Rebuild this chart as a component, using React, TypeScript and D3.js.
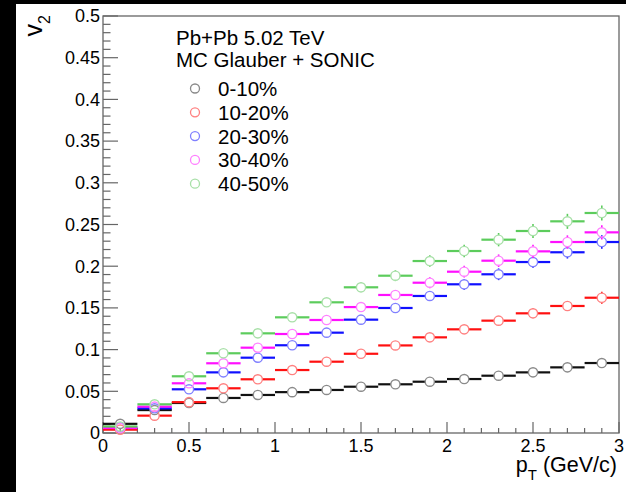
import React from "react";
import * as d3 from "d3";

const binCenters = [0.1, 0.3, 0.5, 0.7, 0.9, 1.1, 1.3, 1.5, 1.7, 1.9, 2.1, 2.3, 2.5, 2.7, 2.9];
const binHalfWidth = 0.1;

const v2_0_10 = [0.011, 0.0275, 0.036, 0.042, 0.0456, 0.049, 0.0516, 0.0555, 0.0584, 0.0615, 0.0647, 0.0687, 0.0727, 0.0787, 0.0839];
const v2_10_20 = [0.004, 0.0208, 0.037, 0.0536, 0.0644, 0.0755, 0.0855, 0.095, 0.105, 0.1147, 0.1243, 0.1347, 0.1435, 0.1523, 0.1622];
const v2_20_30 = [0.0065, 0.0296, 0.0524, 0.0727, 0.0903, 0.1052, 0.1203, 0.1359, 0.1499, 0.1643, 0.1783, 0.1903, 0.205, 0.2167, 0.229];
const v2_30_40 = [0.006, 0.0316, 0.0596, 0.0836, 0.1023, 0.1187, 0.1355, 0.151, 0.1655, 0.1802, 0.1934, 0.2066, 0.2178, 0.229, 0.2406];
const v2_40_50 = [0.0078, 0.0344, 0.068, 0.0956, 0.1195, 0.1387, 0.1567, 0.1747, 0.1886, 0.2062, 0.2182, 0.2318, 0.2422, 0.2538, 0.2638];

const err_0_10 = [0.001, 0.001, 0.001, 0.001, 0.001, 0.002, 0.002, 0.002, 0.002, 0.002, 0.003, 0.003, 0.003, 0.003, 0.003];
const err_10_20 = [0.001, 0.001, 0.002, 0.002, 0.002, 0.003, 0.003, 0.003, 0.004, 0.004, 0.005, 0.005, 0.006, 0.006, 0.0072];
const err_20_30 = [0.001, 0.002, 0.002, 0.002, 0.003, 0.003, 0.004, 0.005, 0.005, 0.006, 0.0065, 0.007, 0.007, 0.0075, 0.008];
const err_30_40 = [0.001, 0.002, 0.002, 0.003, 0.003, 0.004, 0.004, 0.005, 0.006, 0.0065, 0.007, 0.0075, 0.008, 0.008, 0.0085];
const err_40_50 = [0.001, 0.002, 0.002, 0.003, 0.003, 0.004, 0.005, 0.006, 0.0065, 0.007, 0.0075, 0.008, 0.0085, 0.009, 0.009];

const seriesLabels = ["0-10%", "10-20%", "20-30%", "30-40%", "40-50%"];
const seriesValues = [v2_0_10, v2_10_20, v2_20_30, v2_30_40, v2_40_50];
const seriesErrors = [err_0_10, err_10_20, err_20_30, err_30_40, err_40_50];
const lineColors = ["#111111", "#ff1010", "#1010ff", "#ff10ff", "#5ccc5c"];
const markerColors = ["#8a8a8a", "#ff8080", "#8080ff", "#ff80ff", "#a8e0a8"];

const xTickLabels = ["0", "0.5", "1", "1.5", "2", "2.5", "3"];
const yTickLabels = ["0", "0.05", "0.1", "0.15", "0.2", "0.25", "0.3", "0.35", "0.4", "0.45", "0.5"];
const headerLines = ["Pb+Pb 5.02 TeV", "MC Glauber + SONIC"];

const FONT = "'Liberation Sans', Arial, Helvetica, sans-serif";

export default function App() {
  const W = 626, H = 492;
  const L = 103, R = 619, T = 16, B = 433;
  const x = d3.scaleLinear().domain([0, 3]).range([L, R]);
  const y = d3.scaleLinear().domain([0, 0.5]).range([B, T]);
  const r = 4.6;
  const axisColor = "#666";

  const xMinor = d3.range(0, 31).map((i) => i / 10);
  const yMinor = d3.range(0, 51).map((i) => i / 100);

  return (
    <svg width={W} height={H} style={{ position: "absolute", left: 0, top: 0, background: "#fff" }} fontFamily={FONT}>
      <rect x={0} y={0} width={W} height={H} fill="#fff" />
      <rect x={0} y={0} width={16} height={H} fill="#000" />
      <rect x={0} y={0} width={W} height={4} fill="#000" />

      {/* frame */}
      <rect x={L} y={T} width={R - L} height={B - T} fill="none" stroke={axisColor} strokeWidth={1.3} />

      {/* x ticks */}
      {xMinor.map((v, i) => {
        const major = i % 5 === 0;
        return (
          <line key={"xt" + i} x1={x(v)} x2={x(v)} y1={B} y2={B - (major ? 11 : 5)} stroke={axisColor} strokeWidth={1.2} />
        );
      })}
      {/* y ticks */}
      {yMinor.map((v, i) => {
        const major = i % 5 === 0;
        return (
          <line key={"yt" + i} x1={L} x2={L + (major ? 15 : 7.5)} y1={y(v)} y2={y(v)} stroke={axisColor} strokeWidth={1.2} />
        );
      })}

      {/* tick labels */}
      {xTickLabels.map((t) => (
        <text key={"xl" + t} x={x(+t)} y={452} fontSize={18} textAnchor="middle" fill="#000">
          {t}
        </text>
      ))}
      {yTickLabels.map((t) => (
        <text key={"yl" + t} x={100} y={y(+t) + 6.3} fontSize={18} textAnchor="end" fill="#000">
          {t}
        </text>
      ))}

      {/* axis titles */}
      <text x={617} y={472} fontSize={21.5} textAnchor="end" fill="#000">
        p<tspan fontSize={15} dy={8}>T</tspan>
        <tspan dy={-8}> (GeV/c)</tspan>
      </text>
      <text transform="translate(42,15) rotate(-90)" fontSize={25} textAnchor="end" fill="#000">
        v<tspan fontSize={16} dy={8}>2</tspan>
      </text>

      {/* data */}
      {seriesValues.map((vals, s) => (
        <g key={"s" + s}>
          {vals.map((v, i) => {
            const cx = x(binCenters[i]);
            const cy = y(v);
            const xl = x(binCenters[i] - binHalfWidth);
            const xr = x(binCenters[i] + binHalfWidth);
            const e = seriesErrors[s][i];
            const ey1 = y(v + e);
            const ey2 = y(v - e);
            return (
              <g key={i}>
                <line x1={xl} x2={cx - r} y1={cy} y2={cy} stroke={lineColors[s]} strokeWidth={2.2} />
                <line x1={cx + r} x2={xr} y1={cy} y2={cy} stroke={lineColors[s]} strokeWidth={2.2} />
                {cy - ey1 > r && (
                  <line x1={cx} x2={cx} y1={ey1} y2={cy - r} stroke={lineColors[s]} strokeWidth={1.6} />
                )}
                {ey2 - cy > r && (
                  <line x1={cx} x2={cx} y1={cy + r} y2={ey2} stroke={lineColors[s]} strokeWidth={1.6} />
                )}
                <circle cx={cx} cy={cy} r={r} fill="none" stroke={markerColors[s]} strokeWidth={1.4} />
              </g>
            );
          })}
        </g>
      ))}

      {/* header + legend */}
      {headerLines.map((t, i) => (
        <text key={"h" + i} x={176} y={45 + i * 22} fontSize={20.5} fill="#000">
          {t}
        </text>
      ))}
      {seriesLabels.map((t, i) => (
        <g key={"lg" + i}>
          <circle cx={195} cy={88.5 + i * 23.8} r={4.5} fill="none" stroke={markerColors[i]} strokeWidth={1.3} />
          <text x={218} y={88.5 + i * 23.8 + 7.5} fontSize={20.5} fill="#000">
            {t}
          </text>
        </g>
      ))}
    </svg>
  );
}
